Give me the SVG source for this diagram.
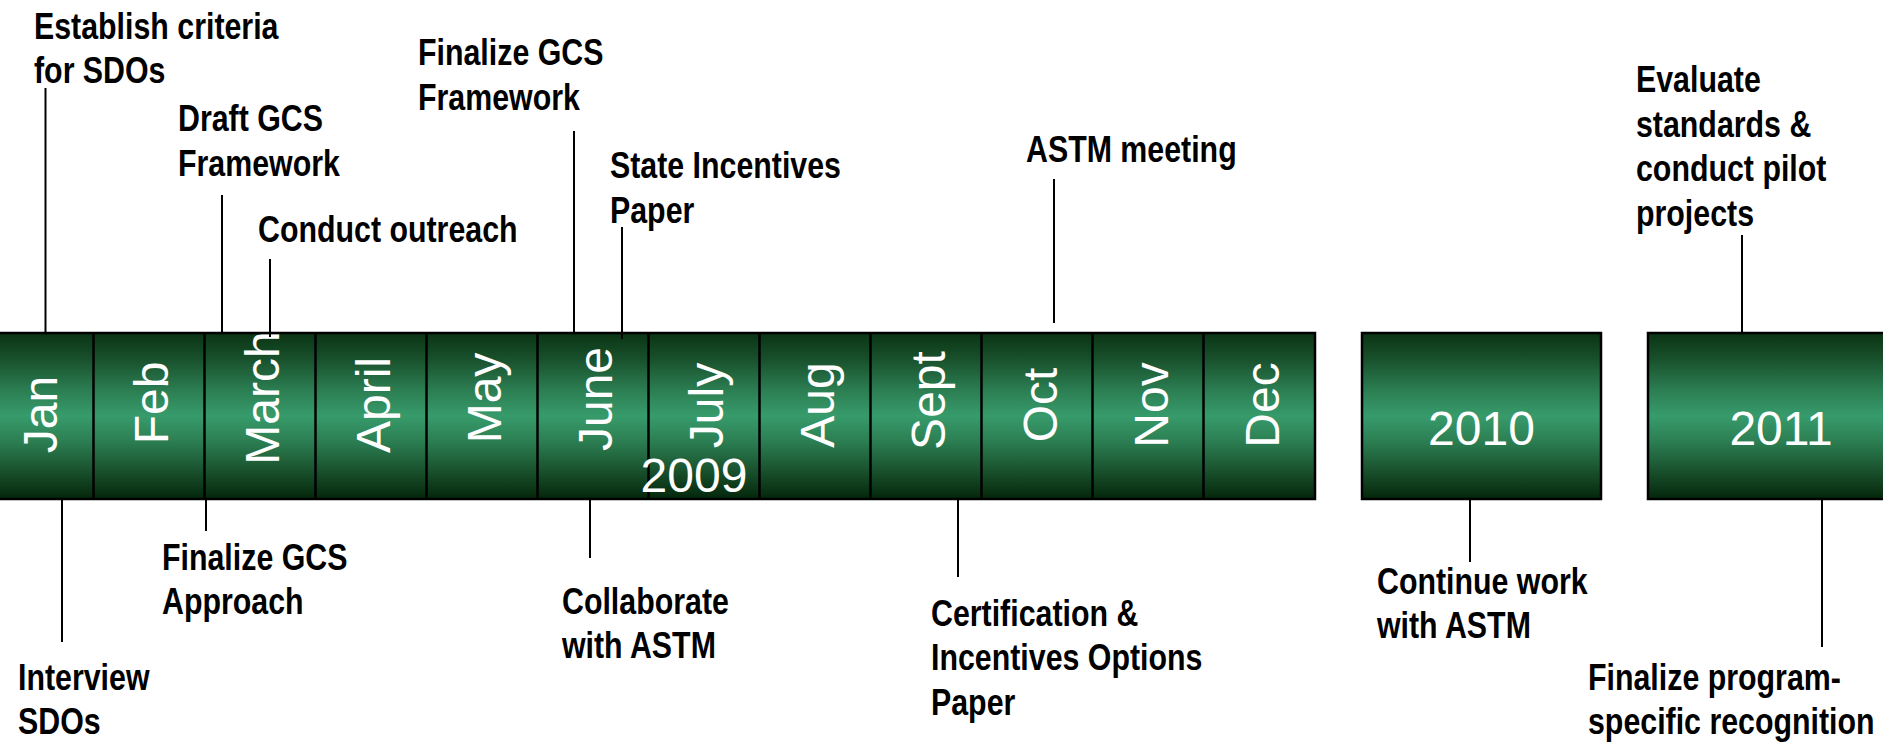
<svg xmlns="http://www.w3.org/2000/svg" width="1883" height="743" viewBox="0 0 1883 743">
<defs>
<linearGradient id="grn" x1="0" y1="0" x2="0" y2="1">
<stop offset="0" stop-color="#0a3414"/>
<stop offset="0.15" stop-color="#184f2b"/>
<stop offset="0.35" stop-color="#2c7f53"/>
<stop offset="0.5" stop-color="#379b6b"/>
<stop offset="0.65" stop-color="#2c7f53"/>
<stop offset="0.85" stop-color="#174c29"/>
<stop offset="1" stop-color="#03270a"/>
</linearGradient>
<style>
.bar{fill:url(#grn);stroke:#000;stroke-width:2.5}
.dv{stroke:#000;stroke-width:2.5}
.m{font-family:"Liberation Sans",Arial,sans-serif;font-size:48px;fill:#fff;text-anchor:middle}
.lbl{font-family:"Liberation Sans",Arial,sans-serif;font-size:37px;font-weight:bold;fill:#000}
.c{stroke:#000;stroke-width:2;fill:none}
</style>
</defs>
<rect width="1883" height="743" fill="#fff"/>

<g id="year-2009">
<rect class="bar" x="-20" y="333" width="1335" height="166"/>
<path class="dv" d="M93.5 333V499M204.5 333V499M315.5 333V499M426.5 333V499M537.5 333V499M648.5 333V499M759.5 333V499M870.5 333V499M981.5 333V499M1092.5 333V499M1203.5 333V499"/>
<text class="m" transform="translate(57,414.5) rotate(-90)">Jan</text>
<text class="m" transform="translate(168,403) rotate(-90)">Feb</text>
<text class="m" transform="translate(279,398) rotate(-90)">March</text>
<text class="m" transform="translate(390,405) rotate(-90)">April</text>
<text class="m" transform="translate(501,398) rotate(-90)">May</text>
<text class="m" transform="translate(612,399) rotate(-90)">June</text>
<text class="m" transform="translate(723,405.5) rotate(-90)">July</text>
<text class="m" transform="translate(834,405) rotate(-90)">Aug</text>
<text class="m" transform="translate(945,400.5) rotate(-90)">Sept</text>
<text class="m" transform="translate(1057,405) rotate(-90)">Oct</text>
<text class="m" transform="translate(1168,405) rotate(-90)">Nov</text>
<text class="m" transform="translate(1279,405) rotate(-90)">Dec</text>
<text class="m" x="694" y="492">2009</text>
</g>

<g id="year-2010">
<rect class="bar" x="1362" y="333" width="239" height="166"/>
<text class="m" x="1481.5" y="445">2010</text>
</g>

<g id="year-2011">
<rect class="bar" x="1648" y="333" width="270" height="166"/>
<text class="m" x="1781" y="445">2011</text>
</g>

<g id="connectors">
<path class="c" d="M45.5 88V333M222 195V333M270 259V337M574 131V333M622 227V339M1054 179V323M1742 235V333"/>
<path class="c" d="M62 499V642M206 499V531M590 499V558M958 499V577M1470 499V562M1822 499V647"/>
</g>

<g id="establish-criteria" transform="translate(34,2) scale(0.82,1)"><text class="lbl"><tspan x="0" y="37">Establish criteria</tspan><tspan x="0" y="81.5">for SDOs</tspan></text></g>
<g id="draft-gcs" transform="translate(178,2) scale(0.82,1)"><text class="lbl"><tspan x="0" y="129">Draft GCS</tspan><tspan x="0" y="174">Framework</tspan></text></g>
<g id="conduct-outreach" transform="translate(258,2) scale(0.82,1)"><text class="lbl"><tspan x="0" y="240">Conduct outreach</tspan></text></g>
<g id="finalize-framework" transform="translate(418,2) scale(0.82,1)"><text class="lbl"><tspan x="0" y="63.5">Finalize GCS</tspan><tspan x="0" y="108">Framework</tspan></text></g>
<g id="state-incentives" transform="translate(610,2) scale(0.82,1)"><text class="lbl"><tspan x="0" y="176">State Incentives</tspan><tspan x="0" y="221">Paper</tspan></text></g>
<g id="astm-meeting" transform="translate(1026,2) scale(0.82,1)"><text class="lbl"><tspan x="0" y="160">ASTM meeting</tspan></text></g>
<g id="evaluate-standards" transform="translate(1636,2) scale(0.82,1)"><text class="lbl"><tspan x="0" y="90.5">Evaluate</tspan><tspan x="0" y="135">standards &amp;</tspan><tspan x="0" y="179.5">conduct pilot</tspan><tspan x="0" y="224">projects</tspan></text></g>
<g id="interview-sdos" transform="translate(18,2) scale(0.82,1)"><text class="lbl"><tspan x="0" y="688">Interview</tspan><tspan x="0" y="732">SDOs</tspan></text></g>
<g id="finalize-approach" transform="translate(162,2) scale(0.82,1)"><text class="lbl"><tspan x="0" y="568">Finalize GCS</tspan><tspan x="0" y="612.5">Approach</tspan></text></g>
<g id="collaborate-astm" transform="translate(562,2) scale(0.82,1)"><text class="lbl"><tspan x="0" y="612">Collaborate</tspan><tspan x="0" y="656">with ASTM</tspan></text></g>
<g id="certification-paper" transform="translate(931,2) scale(0.82,1)"><text class="lbl"><tspan x="0" y="624">Certification &amp;</tspan><tspan x="0" y="668.5">Incentives Options</tspan><tspan x="0" y="713">Paper</tspan></text></g>
<g id="continue-work" transform="translate(1377,2) scale(0.82,1)"><text class="lbl"><tspan x="0" y="592">Continue work</tspan><tspan x="0" y="636.5">with ASTM</tspan></text></g>
<g id="finalize-program" transform="translate(1588,2) scale(0.82,1)"><text class="lbl"><tspan x="0" y="688">Finalize program-</tspan><tspan x="0" y="732">specific recognition</tspan></text></g>
</svg>
